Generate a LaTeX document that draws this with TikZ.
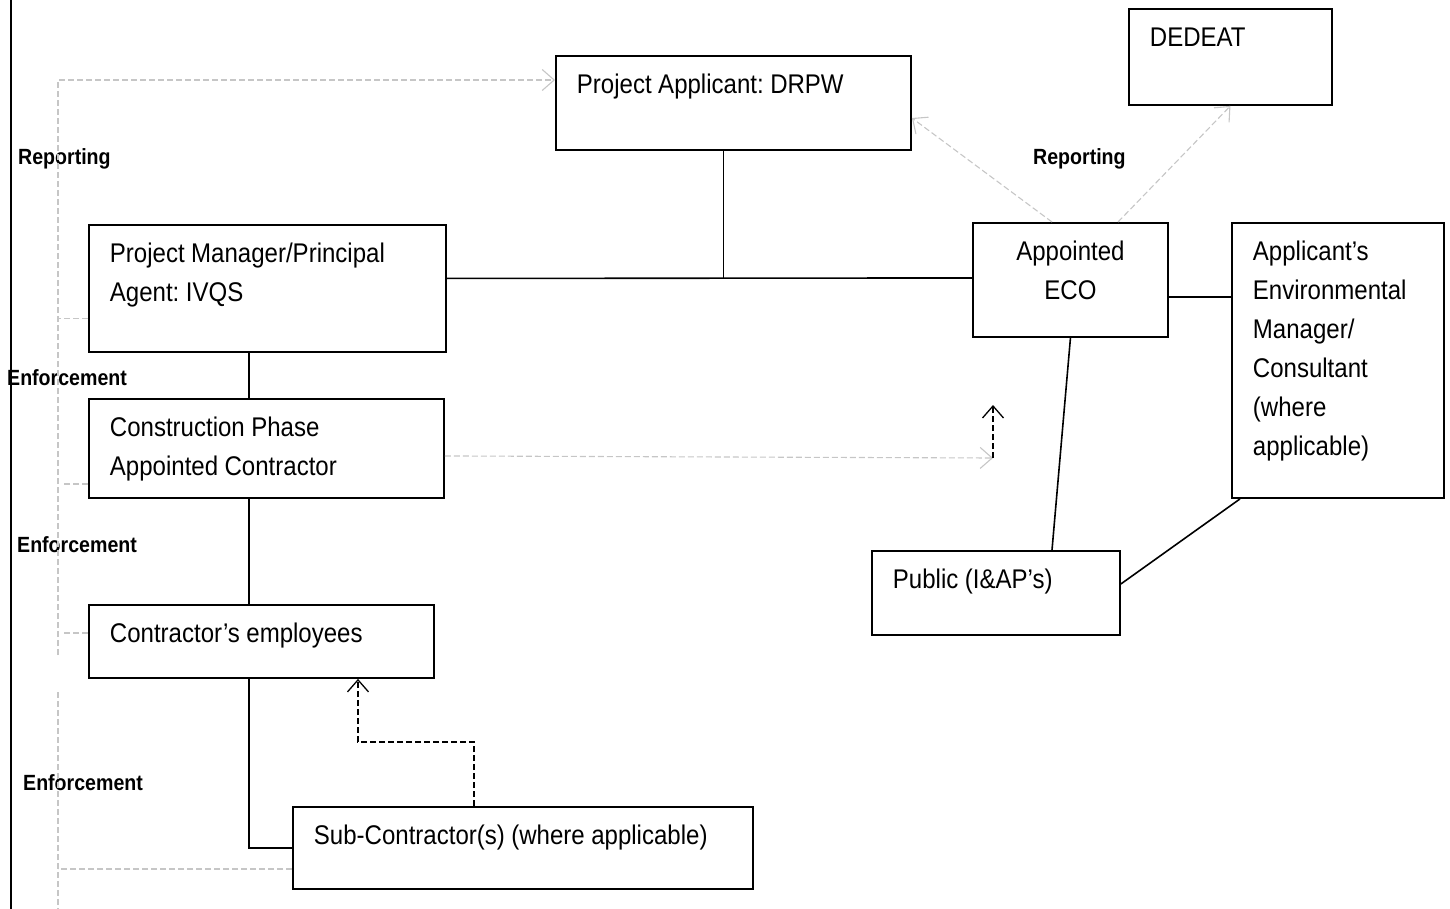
\documentclass[tikz,border=0pt]{standalone}
\usepackage{fontspec}
\setmainfont{Liberation Sans}[FakeStretch=0.89]
\usepackage{xcolor}
\usepackage{tikz}
\usetikzlibrary{arrows.meta}
\definecolor{reportgrey}{RGB}{198,198,198}

\begin{document}
\begin{tikzpicture}[x=1pt,y=-1pt,>={Straight Barb[length=12pt,width=21pt]},
  box/.style={draw,line width=1.9pt,anchor=north west,inner xsep=21pt,inner ysep=0pt,
    align=left,text height=38pt,font=\fontsize{27}{39}\selectfont,
    execute at begin node={\frenchspacing\spaceskip=6.5pt\relax}},
  wire/.style={line width=1.6pt},
  report/.style={reportgrey,line width=1.1pt,dash pattern=on 6pt off 3pt},
  flow/.style={black,line width=1.3pt,dash pattern=on 6pt off 3pt},
  tag/.style={anchor=base west,inner sep=0pt,font=\fontsize{22}{26}\selectfont\bfseries}]
  \useasboundingbox (0,0) rectangle (1450,909);
  % frame edge on the left
  \draw[line width=1.8pt] (11,0) -- (11,909);

  % boxes
  \node[box,text width=313pt,text depth=56pt] (drpw) at (555,55) {Project Applicant: DRPW};
  \node[box,text width=161pt,text depth=58pt] (dedeat) at (1128,8) {DEDEAT};
  \node[box,text width=315pt,text depth=89pt] (pm) at (88,224) {Project Manager/Principal\\Agent: IVQS};
  \node[box,text width=313pt,text depth=61pt] (cpac) at (88,398) {Construction Phase\\Appointed Contractor};
  \node[box,text width=303pt,text depth=35pt] (empl) at (88,604) {Contractor’s employees};
  \node[box,text width=418pt,text depth=44pt] (sub) at (292,806) {Sub-Contractor(s) (where applicable)};
  \node[box,text width=153pt,text depth=76pt,align=center] (eco) at (972,222) {Appointed\\ECO};
  \node[box,text width=170pt,text depth=237pt] (aem) at (1231,222) {Applicant’s\\Environmental\\Manager/\\Consultant\\(where\\applicable)};
  \node[box,text width=206pt,text depth=46pt] (pub) at (871,550) {Public (I\&AP’s)};

  % labels
  \node[tag] (rep1) at (18,165) {Reporting};
  \node[tag] (rep2) at (1033,165) {Reporting};
  \node[tag] (enf1) at (7,385) {Enforcement};
  \node[tag] (enf2) at (17,552) {Enforcement};
  \node[tag] (enf3) at (23,790) {Enforcement};

  % solid links
  \draw[wire] ([yshift=10pt]pm.east) -- ([yshift=2pt]eco.west);
  \draw[wire] ([xshift=-10pt]drpw.south) -- ++(0,128);
  \draw[wire] ([xshift=161pt]pm.south west) -- ([xshift=161pt]cpac.north west);
  \draw[wire] ([xshift=161pt]cpac.south west) -- ([xshift=161pt]empl.north west);
  \draw[wire] ([xshift=161pt]empl.south west) |- (sub.west);
  \draw[wire] ([yshift=-17pt]eco.east) -- ([yshift=63.5pt]aem.west);
  \draw[wire] (eco.south) -- ([xshift=181pt]pub.north west);
  \draw[wire] ([yshift=9pt]pub.east) -- ([xshift=9pt]aem.south west);

  % reporting lines
  \coordinate (lb1) at (58,655);
  \coordinate (lb2) at (58,692);
  \draw[report,->] (lb1) |- ([yshift=-25pt]drpw.north west);
  \draw[report] (lb2) -- (58,909);
  \draw[report] ([yshift=-30pt]pm.west) -- +(-30,0);
  \draw[report] ([yshift=-35.5pt]cpac.west) -- +(-26,0);
  \draw[report] ([yshift=8.5pt]empl.west) -- +(-26,0);
  \draw[report] ([yshift=-21pt]sub.west) -- +(-234,0);
  \draw[report,->] ([xshift=80pt]eco.north west) -- ([yshift=-63pt]drpw.north east);
  \draw[report,->] ([xshift=146pt]eco.north west) -- (dedeat.south);

  % contractor to ECO
  \coordinate (ecoin) at (993,458);
  \coordinate (ecoup) at (993,405);
  \draw[report,->] ([yshift=-7.5pt]cpac.east) -- (ecoin);
  \draw[flow,->] (ecoin) -- (ecoup);

  % sub-contractor to employees
  \draw[flow,->] ([xshift=182pt]sub.north west) -- ++(0,-64) -| ([xshift=270pt]empl.south west);
\end{tikzpicture}
\end{document}
